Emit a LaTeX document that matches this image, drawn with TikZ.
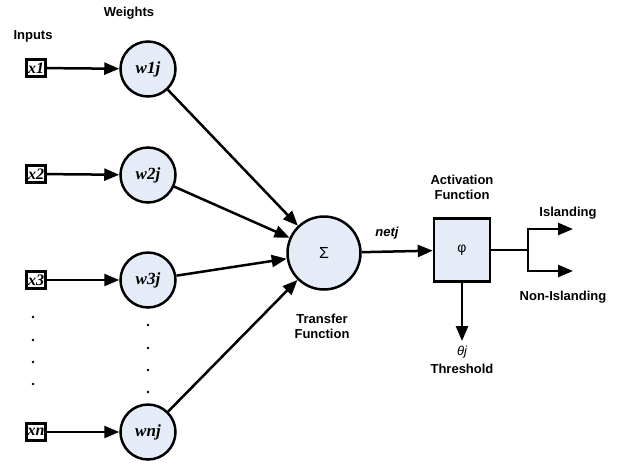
\documentclass[tikz,border=0pt]{standalone}
\usepackage{fontspec}
\setmainfont{Liberation Serif}
\setsansfont{Liberation Sans}
\usetikzlibrary{arrows.meta}
\definecolor{nodefill}{HTML}{E6ECF7}
\tikzset{
  wnode/.style={circle,draw,line width=2.5pt,fill=nodefill,minimum size=55pt,inner sep=0pt,font=\fontsize{17}{19}\selectfont\bfseries\itshape},
  xbox/.style={rectangle,draw,line width=2.2pt,fill=white,minimum width=19pt,minimum height=17pt,inner sep=0.3pt,font=\fontsize{16}{18}\selectfont\bfseries\itshape},
  lbl/.style={font=\fontsize{13}{15}\selectfont\sffamily\bfseries,align=center,inner sep=0pt},
  arr/.style={line width=2.5pt,-{Triangle[length=15pt,width=12pt]}},
  ln/.style={line width=2.5pt},
  dotn/.style={circle,fill,inner sep=0pt,minimum size=2.6pt}
}
\begin{document}
\begin{tikzpicture}[x=1pt,y=-1pt]
\useasboundingbox (0,0) rectangle (620,464);
\node[lbl] (weights) at (129,13) {Weights};
\node[lbl] (inputs) at (33,36) {Inputs};
% inputs
\node[xbox] (x1) at (36,68) {x1};
\node[xbox] (x2) at (36,174) {x2};
\node[xbox] (x3) at (36,280) {x3};
\node[xbox] (xn) at (36,432) {xn};
% weights
\node[wnode] (w1) at (148,69) {w1j};
\node[wnode] (w2) at (148,175) {w2j};
\node[wnode] (w3) at (148,280) {w3j};
\node[wnode] (wn) at (148,432) {wnj};
% dots
\node[dotn] (d1) at (33,317) {};
\node[dotn] (d2) at (33,340) {};
\node[dotn] (d3) at (33,362) {};
\node[dotn] (d4) at (33,384) {};
\node[dotn] (e1) at (148,325) {};
\node[dotn] (e2) at (148,348) {};
\node[dotn] (e3) at (148,370) {};
\node[dotn] (e4) at (148,392) {};
% sum
\node[circle,draw,line width=2.5pt,fill=nodefill,minimum size=73pt,inner sep=0pt,font=\fontsize{16}{18}\selectfont\sffamily] (sum) at (324,253) {Σ};
\node[lbl] (transfer) at (322,326) {Transfer\\Function};
% activation
\node[rectangle,draw,line width=2.5pt,fill=nodefill,minimum width=56pt,minimum height=63pt,inner sep=0pt,font=\fontsize{14}{16}\selectfont\sffamily] (act) at (462,250) {φ};
\node[lbl] (actl) at (462,187) {Activation\\Function};
\node[font=\fontsize{13}{15}\selectfont\sffamily\bfseries\itshape,inner sep=0pt] (net) at (387,233) {netj};
% connectors
\draw[arr] (x1) -- (w1);
\draw[arr] (x2) -- (w2);
\draw[arr] (x3) -- (w3);
\draw[arr] (xn) -- (wn);
\draw[arr] (w1) -- (sum);
\draw[arr] (w2) -- (sum);
\draw[arr] (w3) -- (sum);
\draw[arr] (wn) -- (sum);
\draw[arr] (sum) -- (act);
% outputs
\coordinate (split) at (528,250);
\coordinate (up) at (528,229);
\coordinate (dn) at (528,271);
\coordinate (isl) at (573,229);
\coordinate (nisl) at (573,271);
\coordinate (thr) at (462,341);
\draw[ln] (act.east) -- (split);
\draw[ln] ([yshift=1.25pt]up) -- ([yshift=-1.25pt]dn);
\draw[arr] (up) -- (isl);
\draw[arr] (dn) -- (nisl);
\draw[arr] (act.south) -- (thr);
\node[lbl] (islandl) at (568,213) {Islanding};
\node[lbl] (nislandl) at (563,297) {Non-Islanding};
\node[font=\fontsize{13}{15}\selectfont\sffamily\itshape,inner sep=0pt] (theta) at (462,352) {θj};
\node[lbl] (thresh) at (462,369) {Threshold};
\end{tikzpicture}
\end{document}
